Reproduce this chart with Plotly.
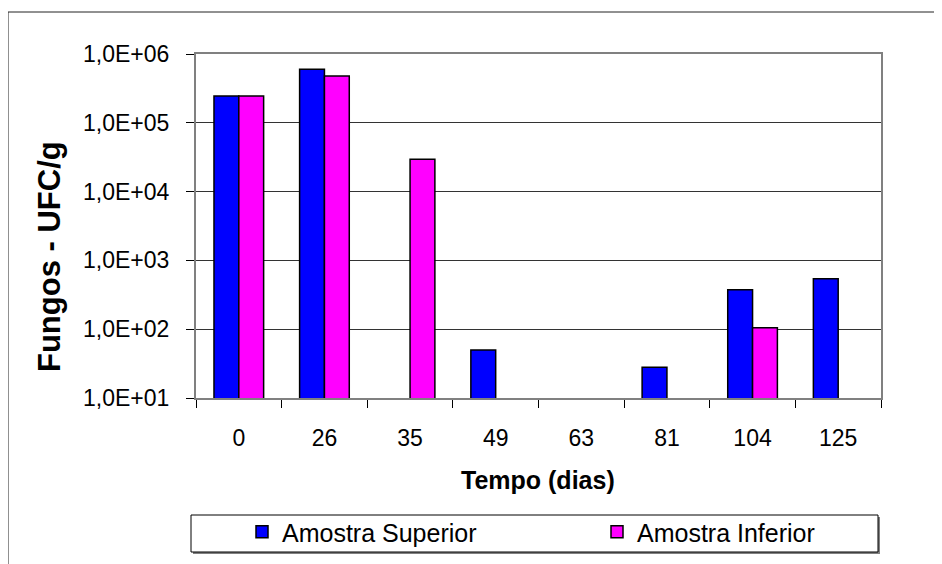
import plotly.graph_objects as go

categories = ["0", "26", "35", "49", "63", "81", "104", "125"]
superior = [2.45e5, 6.0e5, None, 50, None, 28, 375, 540]
inferior = [2.45e5, 4.8e5, 2.95e4, None, None, None, 105, None]
ytick_vals = [1e1, 1e2, 1e3, 1e4, 1e5, 1e6]
ytick_text = ["1,0E+01", "1,0E+02", "1,0E+03", "1,0E+04", "1,0E+05", "1,0E+06"]

# page has an 8px body margin; figure coordinates = page coordinates - 8
W, H = 942, 564
OFF = 8
L, T = 196 - OFF, 54 - OFF
RIGHT, BOTTOM = 881 - OFF, 398 - OFF
R, B = W - RIGHT, H - BOTTOM
pw, ph = RIGHT - L, BOTTOM - T


def px(x):
    """page x pixel -> paper x"""
    return (x - OFF - L) / pw


def py(y):
    """page y pixel -> paper y"""
    return (BOTTOM - (y - OFF)) / ph


FONT = "Liberation Sans, Arial, sans-serif"

fig = go.Figure()
fig.add_trace(go.Bar(x=categories, y=superior, name="Amostra Superior", legend="legend",
                     marker=dict(color="#0000FF", line=dict(color="black", width=1.5))))
fig.add_trace(go.Bar(x=categories, y=inferior, name="Amostra Inferior", legend="legend2",
                     marker=dict(color="#FF00FF", line=dict(color="black", width=1.5))))

shapes = [
    # outer chart frame
    dict(type="rect", xref="paper", yref="paper", x0=px(8), x1=px(1300), y0=py(1000), y1=py(12),
         line=dict(color="#222222", width=1), layer="below"),
    # legend shadow
    dict(type="rect", xref="paper", yref="paper", x0=px(193), x1=px(880), y0=py(554), y1=py(517),
         line=dict(width=0), fillcolor="#808080", layer="below"),
    # legend box
    dict(type="rect", xref="paper", yref="paper", x0=px(191), x1=px(878), y0=py(552), y1=py(515),
         line=dict(color="black", width=1), fillcolor="white", layer="below"),
]

annotations = [
    dict(text="<b>Fungos - UFC/g</b>", xref="paper", yref="paper", x=px(50), y=py(257),
         textangle=-90, showarrow=False, font=dict(family=FONT, size=31, color="black"),
         xanchor="center", yanchor="middle"),
    dict(text="<b>Tempo (dias)</b>", xref="paper", yref="paper", x=px(538), y=py(480),
         showarrow=False, font=dict(family=FONT, size=25, color="black"),
         xanchor="center", yanchor="middle"),
]

legend_common = dict(orientation="h", yanchor="middle", y=py(532),
                     font=dict(family=FONT, size=25, color="black"),
                     bgcolor="rgba(0,0,0,0)", borderwidth=0, xanchor="left")

fig.update_layout(
    width=W, height=H,
    margin=dict(l=L, r=R, t=T, b=B, autoexpand=False),
    paper_bgcolor="white", plot_bgcolor="white",
    barmode="group", bargap=0.42, bargroupgap=0,
    font=dict(family=FONT, size=23, color="black"),
    showlegend=True,
    legend=dict(x=px(242), **legend_common),
    legend2=dict(x=px(597), **legend_common),
    shapes=shapes, annotations=annotations,
)

fig.update_xaxes(type="category", tickson="boundaries", ticks="outside", ticklen=8,
                 tickcolor="black", showline=True, linecolor="#808080", linewidth=2,
                 mirror=True, showgrid=False, ticklabelstandoff=18,
                 tickfont=dict(family=FONT, size=23, color="black"))
fig.update_yaxes(type="log", range=[1, 6], tickvals=ytick_vals, ticktext=ytick_text,
                 ticks="outside", ticklen=8, tickcolor="black",
                 showline=True, linecolor="#808080", linewidth=2, mirror=True,
                 showgrid=True, gridcolor="#333333", gridwidth=1,
                 ticklabelstandoff=12, tickfont=dict(family=FONT, size=23, color="black"))

fig.write_html("out.html")
